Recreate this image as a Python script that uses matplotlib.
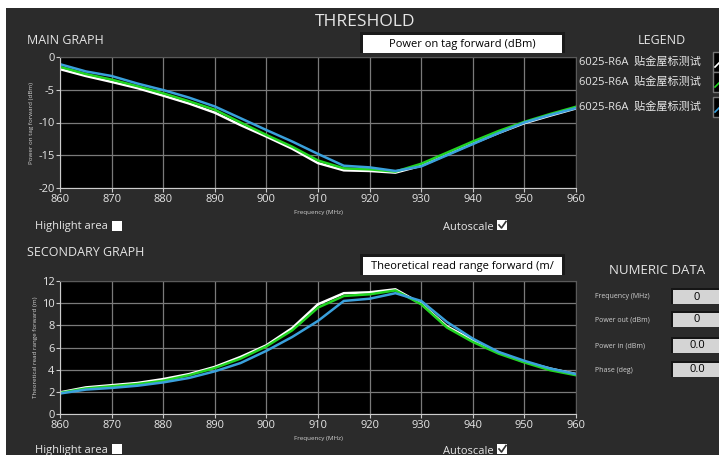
import matplotlib
matplotlib.use("Agg")
import matplotlib.pyplot as plt
from matplotlib.patches import Rectangle
from matplotlib.lines import Line2D

plt.rcParams['font.family'] = ['Open Sans', 'Noto Sans CJK SC', 'DejaVu Sans']
plt.rcParams['axes.unicode_minus'] = False

# ---------------- data ----------------
freq = [860, 865, 870, 875, 880, 885, 890, 895, 900, 905, 910,
        915, 920, 925, 930, 935, 940, 945, 950, 955, 960]

power_white = [-1.85, -2.9, -3.8, -4.75, -5.9, -7.1, -8.5, -10.4, -12.15, -14.0, -16.2,
               -17.3, -17.4, -17.65, -16.6, -14.9, -13.2, -11.6, -10.1, -8.95, -7.85]
power_green = [-1.5, -2.6, -3.45, -4.45, -5.55, -6.75, -8.05, -10.0, -11.9, -13.7, -15.8,
               -17.0, -17.15, -17.5, -16.3, -14.6, -12.9, -11.3, -9.9, -8.7, -7.6]
power_blue = [-1.1, -2.2, -2.9, -4.05, -5.05, -6.2, -7.55, -9.35, -11.15, -12.9, -14.8,
              -16.6, -16.85, -17.4, -16.7, -15.0, -13.3, -11.6, -10.0, -8.85, -7.8]

range_white = [1.95, 2.4, 2.6, 2.8, 3.15, 3.6, 4.25, 5.15, 6.2, 7.75, 9.9,
               10.9, 10.98, 11.25, 9.95, 7.9, 6.65, 5.55, 4.7, 4.1, 3.6]
range_green = [1.9, 2.3, 2.5, 2.7, 3.0, 3.5, 4.15, 5.0, 6.1, 7.55, 9.6,
               10.65, 10.8, 11.15, 9.9, 7.8, 6.5, 5.45, 4.65, 3.95, 3.5]
range_blue = [1.85, 2.2, 2.35, 2.55, 2.85, 3.25, 3.85, 4.6, 5.7, 6.95, 8.4,
              10.2, 10.4, 10.9, 10.2, 8.3, 6.8, 5.6, 4.8, 4.1, 3.6]

x_ticks = [860, 870, 880, 890, 900, 910, 920, 930, 940, 950, 960]
power_ticks = [0, -5, -10, -15, -20]
range_ticks = [0, 2, 4, 6, 8, 10, 12]

legend_labels = ["6025-R6A  贴金屋标测试", "6025-R6A  贴金屋标测试", "6025-R6A  贴金屋标测试"]
numeric_labels = ["Frequency (MHz)", "Power out (dBm)", "Power in (dBm)", "Phase (deg)"]
numeric_values = ["0", "0", "0.0", "0.0"]

# ---------------- figure ----------------
W, H = 719, 455
BG = '#2b2b2b'
TXT = '#e6e6e6'
fig = plt.figure(figsize=(W / 100, H / 100), dpi=100, facecolor='white')


def fx(px):
    return px / W


def fy(py):
    return 1 - py / H


def frect(x0, y0, x1, y1, **kw):
    r = Rectangle((fx(x0), fy(y1)), fx(x1) - fx(x0), fy(y0) - fy(y1),
                  transform=fig.transFigure, **kw)
    fig.add_artist(r)
    return r


def ftext(x, y, s, **kw):
    kw.setdefault('color', TXT)
    kw.setdefault('va', 'center')
    fig.text(fx(x), fy(y), s, **kw)


# dark panel (white margin top & left)
frect(6, 8, W + 2, H + 2, facecolor=BG, edgecolor='none', zorder=0)

ftext(365, 22, "THRESHOLD", fontsize=12.5, ha='center')
ftext(27, 40, "MAIN GRAPH", fontsize=9)
ftext(27, 253, "SECONDARY GRAPH", fontsize=9)
ftext(662, 41, "LEGEND", fontsize=9, ha='center')
ftext(657, 271, "NUMERIC DATA", fontsize=9.5, ha='center')

# header boxes
for (y0, y1, s) in [(35, 53, "Power on tag forward (dBm)"),
                    (257, 275, "Theoretical read range forward (m/")]:
    frect(360, y0 - 3, 565, y1, facecolor='#1a1a1a', edgecolor='none', zorder=1)
    frect(363, y0, 562, y1, facecolor='white', edgecolor='none', zorder=2)
    ftext(462, (y0 + y1) / 2, s, fontsize=8, color='black', ha='center', zorder=3)


def checkbox(x, y, checked):
    frect(x, y - 5, x + 10, y + 5, facecolor='white', edgecolor='none', zorder=2)
    if checked:
        fig.add_artist(Line2D([fx(x + 2), fx(x + 4.5), fx(x + 9)],
                              [fy(y), fy(y + 3), fy(y - 3.5)],
                              transform=fig.transFigure, color='#333333', lw=1.2, zorder=3))


ftext(35, 227, "Highlight area", fontsize=8)
checkbox(112, 226, False)
ftext(443, 227, "Autoscale", fontsize=8)
checkbox(497, 225, True)
ftext(35, 450, "Highlight area", fontsize=8)
checkbox(112, 449, False)
ftext(443, 451, "Autoscale", fontsize=8)
checkbox(497, 449, True)

# legend
line_colors = ['white', '#22d422', '#3aa0dc']
for i, (lab, yy) in enumerate(zip(legend_labels, [62, 82, 107])):
    ftext(579, yy, lab, fontsize=8, family=['Open Sans', 'Noto Sans CJK SC'])
    frect(713, yy - 10, 730, yy + 10, facecolor='black', edgecolor='#777777', lw=1, zorder=2)
    fig.add_artist(Line2D([fx(715), fx(719)], [fy(yy + 5), fy(yy + 1)],
                          transform=fig.transFigure, color=line_colors[i], lw=1.2, zorder=3))

# numeric data
for lab, val, yy in zip(numeric_labels, numeric_values, [297, 320, 346, 370]):
    ftext(595, yy, lab, fontsize=5, color='#cfcfcf')
    frect(671, yy - 9, W + 2, yy + 7, facecolor='#151515', edgecolor='none', zorder=1)
    frect(673, yy - 7, W + 2, yy + 7, facecolor='#d4d4d4', edgecolor='none', zorder=2)
    ftext(697, yy, val, fontsize=8, color='black', ha='center', zorder=3)


def style_axes(ax, yticks, ylim, ylabel):
    ax.set_facecolor('black')
    ax.set_xlim(860, 960)
    ax.set_ylim(*ylim)
    ax.set_xticks(x_ticks)
    ax.set_yticks(yticks)
    ax.grid(True, color='#7a7a7a', lw=0.9)
    ax.set_axisbelow(True)
    for s in ax.spines.values():
        s.set_color('#5a5a5a')
    ax.spines['left'].set_color('#cccccc')
    ax.spines['bottom'].set_color('#cccccc')
    ax.tick_params(colors='#cccccc', labelcolor=TXT, labelsize=8, length=3, width=0.8, pad=1)
    ax.set_xlabel("Frequency (MHz)", fontsize=4.5, color='#cfcfcf', labelpad=4)
    ax.set_ylabel(ylabel, fontsize=4.5, color='#cfcfcf', labelpad=3)


ax1 = fig.add_axes([fx(60), fy(188), fx(576) - fx(60), fy(57) - fy(188)])
style_axes(ax1, power_ticks, (-20, 0), "Power on tag forward (dBm)")
ax1.plot(freq, power_white, color=line_colors[0], lw=1.8)
ax1.plot(freq, power_green, color=line_colors[1], lw=1.8)
ax1.plot(freq, power_blue, color=line_colors[2], lw=1.8)

ax2 = fig.add_axes([fx(60), fy(414), fx(576) - fx(60), fy(281) - fy(414)])
style_axes(ax2, range_ticks, (0, 12), "Theoretical read range forward (m)")
ax2.plot(freq, range_white, color=line_colors[0], lw=1.8)
ax2.plot(freq, range_green, color=line_colors[1], lw=1.8)
ax2.plot(freq, range_blue, color=line_colors[2], lw=1.8)

fig.savefig("out.png", dpi=100, facecolor=fig.get_facecolor())
